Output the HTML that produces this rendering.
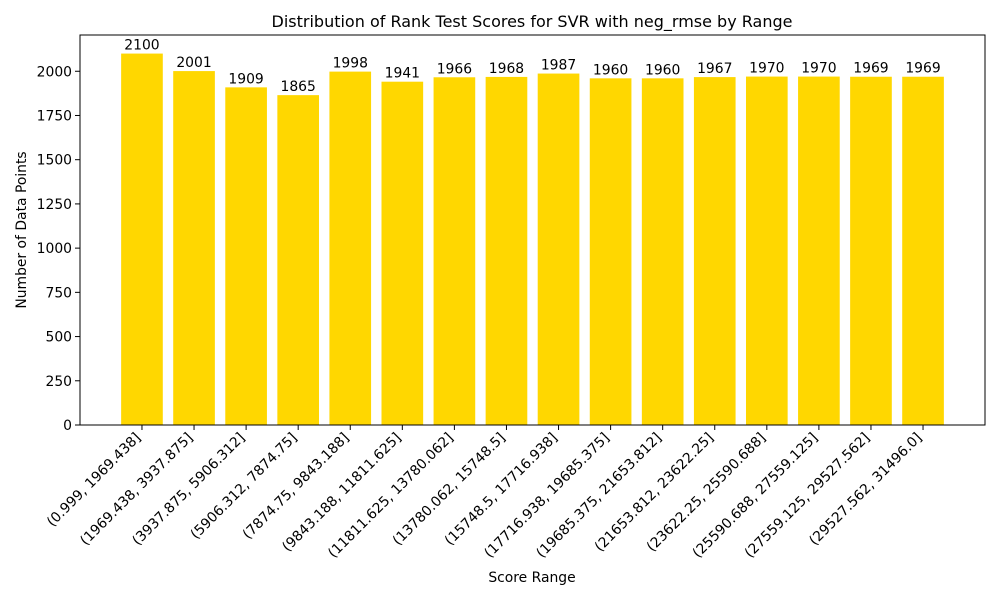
<!DOCTYPE html>
<html><head><meta charset="utf-8"><style>
body{margin:0;background:#fff}
svg text{font-family:"DejaVu Sans","Liberation Sans",sans-serif;fill:#000}
</style></head><body>
<svg id="chart" width="1000" height="600" xmlns="http://www.w3.org/2000/svg">
<rect width="1000" height="600" fill="#fff"/>
<text x="532" y="27" font-size="16" text-anchor="middle">Distribution of Rank Test Scores for SVR with neg_rmse by Range</text>
<text x="532" y="582" font-size="13.9" text-anchor="middle">Score Range</text>
<text transform="translate(26,230) rotate(-90)" font-size="13.9" text-anchor="middle">Number of Data Points</text>
<g id="bars"></g><g id="axes"></g>
</svg>
<script>
const categories=["(0.999, 1969.438]","(1969.438, 3937.875]","(3937.875, 5906.312]","(5906.312, 7874.75]","(7874.75, 9843.188]","(9843.188, 11811.625]","(11811.625, 13780.062]","(13780.062, 15748.5]","(15748.5, 17716.938]","(17716.938, 19685.375]","(19685.375, 21653.812]","(21653.812, 23622.25]","(23622.25, 25590.688]","(25590.688, 27559.125]","(27559.125, 29527.562]","(29527.562, 31496.0]"];
const counts=[2100,2001,1909,1865,1998,1941,1966,1968,1987,1960,1960,1967,1970,1970,1969,1969];
const yTicks=[0,250,500,750,1000,1250,1500,1750,2000];
const NS="http://www.w3.org/2000/svg";
const L=80,R=985,T=35,B=425;
const n=categories.length;
const xmin=-0.4-0.05*(n-0.2),xmax=n-1+0.4+0.05*(n-0.2);
const ymax=Math.max(...counts)*1.05;
const xs=i=>L+(i-xmin)/(xmax-xmin)*(R-L);
const ys=v=>B-v/ymax*(B-T);
const bw=0.8*(R-L)/(xmax-xmin);
function mk(tag,attrs,parent){const e=document.createElementNS(NS,tag);for(const k in attrs)e.setAttribute(k,attrs[k]);parent.appendChild(e);return e;}
const bars=document.getElementById('bars'),axes=document.getElementById('axes');
counts.forEach((v,i)=>{
 const r=mk('rect',{x:xs(i)-bw/2,y:ys(v),width:bw,height:B-ys(v),fill:'#FFD700'},bars);
 
 
 const t=mk('text',{x:xs(i),y:ys(v)-4,'font-size':13.9,'text-anchor':'middle'},bars);
 t.textContent=v;
 
 
 mk('line',{x1:xs(i),x2:xs(i),y1:B,y2:B+5,stroke:'#000','stroke-width':1},axes);
 const lab=mk('text',{transform:`translate(${xs(i)-8},${B+6}) rotate(-45)`,'font-size':13.9,'text-anchor':'end',dy:'0.75em'},axes);
 lab.textContent=categories[i];
 
 
});
yTicks.forEach(v=>{
 mk('line',{x1:L-5,x2:L,y1:ys(v),y2:ys(v),stroke:'#000','stroke-width':1},axes);
 const t=mk('text',{x:L-8,y:ys(v)+5,'font-size':13.9,'text-anchor':'end'},axes);
 t.textContent=v;
 
 
});
const fr=mk('rect',{x:L,y:T,width:R-L,height:B-T,fill:'none',stroke:'#000','stroke-width':1},axes);


</script>
</body></html>
